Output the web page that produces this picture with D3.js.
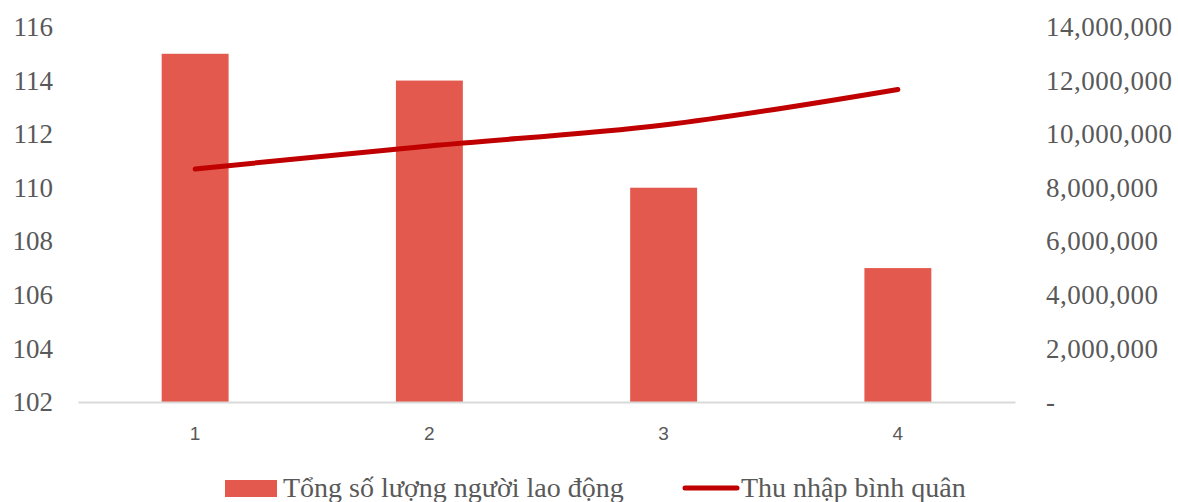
<!DOCTYPE html>
<html>
<head>
<meta charset="utf-8">
<script src="https://cdn.jsdelivr.net/npm/d3@7"></script>
<style>
  html, body { margin: 0; padding: 0; background: #fff; }
  svg { display: block; }
</style>
</head>
<body>
<svg id="chart" width="1178" height="502"></svg>
<script>
// Quarterly labour headcount (bars, left axis) and average income (line, right axis)
const categories = ["1", "2", "3", "4"];
const workers = [115, 114, 110, 107];
const avgIncome = [8700000, 9560000, 10340000, 11670000];
const leftTicks = [102, 104, 106, 108, 110, 112, 114, 116];
const rightTicks = [0, 2000000, 4000000, 6000000, 8000000, 10000000, 12000000, 14000000];
const seriesNames = ["Tổng số lượng người lao động", "Thu nhập bình quân"];

const W = 1178, H = 502;
const margin = { left: 78, right: 163, top: 27, bottom: 100 };
const plotW = W - margin.left - margin.right;
const plotH = H - margin.top - margin.bottom;

const barColor = "#E3594D";
const lineColor = "#C00000";
const textColor = "#595959";
const serif = "'Liberation Serif', 'DejaVu Serif', serif";

const svg = d3.select("#chart");
const g = svg.append("g").attr("transform", `translate(${margin.left},${margin.top})`);

const x = d3.scaleBand().domain(categories).range([0, plotW]).paddingInner(0).paddingOuter(0);
const yL = d3.scaleLinear().domain([102, 116]).range([plotH, 0]);
const yR = d3.scaleLinear().domain([0, 14000000]).range([plotH, 0]);

// bars: Excel-style gap width 250%
const barW = x.bandwidth() / 3.5;
g.selectAll("rect.bar")
  .data(workers)
  .join("rect")
  .attr("class", "bar")
  .attr("x", (d, i) => x(categories[i]) + (x.bandwidth() - barW) / 2)
  .attr("width", barW)
  .attr("y", d => yL(d))
  .attr("height", d => yL(102) - yL(d))
  .attr("fill", barColor);

// category axis baseline
const xAxis = g.append("g")
  .attr("transform", `translate(0,${plotH})`)
  .call(d3.axisBottom(x).tickSize(0).tickPadding(25));
xAxis.select(".domain").attr("stroke", "#D9D9D9").attr("stroke-width", 2);
xAxis.selectAll("text")
  .attr("fill", textColor)
  .style("font-family", "'Liberation Sans', Arial, sans-serif")
  .style("font-size", "19px");

// left axis
const yAxisL = g.append("g")
  .call(d3.axisLeft(yL).tickValues(leftTicks).tickSize(0).tickPadding(25));
yAxisL.select(".domain").remove();
yAxisL.selectAll("text")
  .attr("fill", textColor)
  .style("font-family", serif)
  .style("font-size", "27px");

// right axis (left-aligned labels, zero shown as a dash)
const fmt = d3.format(",");
const yAxisR = g.append("g")
  .attr("transform", `translate(${plotW},0)`)
  .call(d3.axisRight(yR).tickValues(rightTicks).tickSize(0).tickPadding(31)
    .tickFormat(d => d === 0 ? "-" : fmt(d)));
yAxisR.select(".domain").remove();
yAxisR.selectAll("text")
  .attr("fill", textColor)
  .style("font-family", serif)
  .style("font-size", "27px")
  .style("letter-spacing", "0.5px");

// smoothed income line
const line = d3.line()
  .x((d, i) => x(categories[i]) + x.bandwidth() / 2)
  .y(d => yR(d))
  .curve(d3.curveCatmullRom.alpha(0));
g.append("path")
  .datum(avgIncome)
  .attr("d", line)
  .attr("fill", "none")
  .attr("stroke", lineColor)
  .attr("stroke-width", 5)
  .attr("stroke-linecap", "round")
  .attr("stroke-linejoin", "round");

// legend
const legend = svg.append("g").style("font-family", serif).style("font-size", "28px");
const lg1 = legend.append("g").attr("transform", "translate(225,0)");
lg1.append("rect").attr("x", 0).attr("y", 480).attr("width", 52).attr("height", 17).attr("fill", barColor);
lg1.append("text").attr("x", 58).attr("y", 497).attr("fill", textColor).text(seriesNames[0]);
const lg2 = legend.append("g").attr("transform", "translate(685,0)");
lg2.append("line").attr("x1", 0).attr("x2", 52).attr("y1", 488).attr("y2", 488)
  .attr("stroke", lineColor).attr("stroke-width", 5).attr("stroke-linecap", "round");
lg2.append("text").attr("x", 56).attr("y", 497).attr("fill", textColor).text(seriesNames[1]);
</script>
</body>
</html>
